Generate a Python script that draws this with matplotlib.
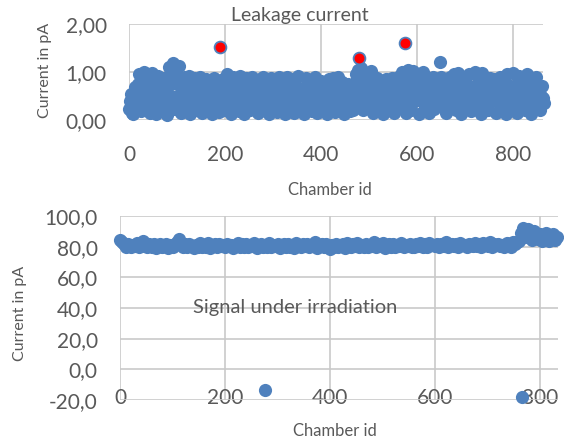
import numpy as np
import matplotlib.pyplot as plt

plt.rcParams['font.family'] = ['Lato', 'DejaVu Sans']

# leakage current per chamber, even ids split into two interleaved lists
leak_ids = np.arange(0, 868, 4)
leak_vals = [
    0.22, 0.55, 0.12, 0.68, 0.35, 0.95, 0.18, 0.62, 1.0, 0.28,
    0.85, 0.15, 0.98, 0.45, 0.12, 0.92, 0.6, 0.2, 0.88, 0.35,
    0.1, 1.1, 0.5, 1.18, 0.22, 0.75, 1.12, 0.15, 0.6, 0.9,
    0.3, 0.92, 0.12, 0.55, 0.88, 0.2, 0.7, 0.9, 0.14, 0.45,
    0.85, 0.25, 0.62, 0.12, 0.88, 0.4, 0.78, 0.16, 0.6, 0.85,
    0.2, 0.95, 0.5, 0.13, 0.9, 0.35, 0.72, 0.18, 0.92, 0.4,
    0.12, 0.88, 0.55, 0.2, 0.9, 0.3, 0.68, 0.14, 0.85, 0.45,
    0.9, 0.2, 0.6, 0.12, 0.88, 0.4, 0.75, 0.16, 0.9, 0.32,
    0.55, 0.12, 0.9, 0.25, 0.7, 0.85, 0.15, 0.5, 0.92, 0.22,
    0.65, 0.12, 0.88, 0.35, 0.8, 0.18, 0.6, 0.9, 0.14, 0.42,
    0.82, 0.2, 0.6, 0.12, 0.85, 0.35, 0.88, 0.16, 0.55, 0.9,
    0.25, 0.8, 0.12, 0.5, 0.75, 0.18, 0.55, 0.3, 0.95, 1.05,
    0.6, 1.08, 0.2, 0.85, 0.4, 0.95, 1.02, 0.15, 0.7, 0.88,
    0.3, 0.82, 0.12, 0.6, 0.85, 0.2, 0.45, 0.88, 0.15, 0.7,
    0.9, 0.25, 1.0, 0.5, 0.15, 1.05, 0.7, 0.2, 1.02, 0.4,
    0.95, 0.12, 0.65, 1.0, 0.3, 0.85, 0.15, 0.55, 0.9, 0.22,
    0.85, 0.5, 1.2, 0.3, 0.7, 0.15, 0.65, 0.9, 0.35, 0.95,
    0.2, 0.98, 0.55, 0.12, 0.9, 0.4, 0.75, 0.95, 0.18, 0.6,
    1.0, 0.3, 0.85, 0.12, 0.98, 0.5, 0.7, 0.2, 0.88, 0.4,
    0.85, 0.15, 0.6, 0.9, 0.3, 0.8, 0.12, 0.95, 0.5, 0.25,
    0.98, 0.6, 0.15, 0.92, 0.35, 0.85, 0.2, 0.95, 0.5, 0.12,
    0.8, 0.3, 0.9, 0.55, 0.2, 0.7, 0.35,
]
leak_ids_b = np.arange(2, 866, 4)
leak_vals_b = [
    0.4, 0.15, 0.35, 0.5, 0.75, 0.45, 0.3, 0.8, 0.55, 0.7,
    0.5, 0.7, 0.3, 0.65, 0.8, 0.4, 0.25, 0.7, 0.5, 0.6,
    0.7, 0.45, 0.85, 0.35, 0.95, 0.5, 0.3, 0.8, 0.4, 0.55,
    0.6, 0.4, 0.75, 0.3, 0.5, 0.65, 0.45, 0.25, 0.7, 0.55,
    0.4, 0.6, 0.35, 0.72, 0.5, 0.25, 0.6, 0.45, 0.3, 0.7,
    0.6, 0.45, 0.3, 0.75, 0.55, 0.65, 0.25, 0.5, 0.7, 0.6,
    0.45, 0.7, 0.35, 0.6, 0.5, 0.75, 0.3, 0.55, 0.65, 0.25,
    0.55, 0.7, 0.4, 0.3, 0.65, 0.5, 0.35, 0.6, 0.7, 0.45,
    0.3, 0.7, 0.45, 0.55, 0.35, 0.6, 0.75, 0.3, 0.5, 0.65,
    0.45, 0.3, 0.6, 0.7, 0.5, 0.35, 0.65, 0.45, 0.7, 0.25,
    0.6, 0.4, 0.7, 0.3, 0.55, 0.65, 0.45, 0.35, 0.7, 0.5,
    0.55, 0.35, 0.65, 0.3, 0.45, 0.4, 0.2, 0.7, 0.85, 0.6,
    0.85, 0.4, 0.7, 0.55, 0.8, 0.3, 0.6, 0.85, 0.45, 0.55,
    0.6, 0.45, 0.3, 0.7, 0.5, 0.6, 0.35, 0.65, 0.45, 0.3,
    0.6, 0.75, 0.4, 0.85, 0.55, 0.8, 0.35, 0.6, 0.75, 0.85,
    0.55, 0.75, 0.4, 0.7, 0.5, 0.6, 0.35, 0.7, 0.45, 0.6,
    0.5, 0.7, 0.9, 0.45, 0.5, 0.35, 0.45, 0.55, 0.7, 0.5,
    0.6, 0.4, 0.75, 0.35, 0.55, 0.7, 0.5, 0.3, 0.65, 0.45,
    0.7, 0.55, 0.35, 0.65, 0.45, 0.75, 0.3, 0.55, 0.6, 0.7,
    0.5, 0.65, 0.35, 0.6, 0.7, 0.45, 0.55, 0.3, 0.7, 0.6,
    0.7, 0.35, 0.55, 0.75, 0.5, 0.6, 0.4, 0.7, 0.3, 0.55,
    0.6, 0.45, 0.65, 0.35, 0.5, 0.45,
]
# flagged chambers (red)
flag_ids = [190, 479, 574]
flag_vals = [1.53, 1.29, 1.60]

# signal under irradiation (every 4th chamber id)
sig_ids = np.arange(0, 836, 4)
sig_vals = [
    84.5, 83.0, 81.5, 80.0, 82.0, 79.5, 81.0, 80.5, 82.5, 79.8,
    81.0, 84.0, 80.2, 79.5, 81.5, 80.0, 82.0, 79.0, 80.8, 81.8,
    79.5, 80.5, 82.0, 79.2, 81.0, 80.0, 81.5, 83.0, 85.0, 82.5,
    80.0, 81.5, 79.5, 82.0, 80.5, 79.0, 81.2, 80.0, 82.2, 79.5,
    81.0, 80.0, 82.5, 79.2, 80.8, 81.5, 79.5, 82.0, 80.2, 81.0,
    79.5, 82.0, 80.5, 81.2, 79.0, 80.8, 82.3, 79.8, 81.5, 80.0,
    82.0, 79.5, 81.0, 80.2, 82.5, 79.2, 80.5, 81.8, 79.8, 81.0,
    80.0, 82.2, 79.5, 81.2, 80.5, 82.0, 79.0, 80.8, 81.5, 79.8,
    82.0, 80.0, 81.0, 79.2, 82.5, 80.5, 79.8, 81.5, 80.2, 82.0,
    79.5, 81.0, 80.5, 82.8, 79.0, 80.2, 81.5, 79.5, 82.0, 80.0,
    78.8, 81.0, 80.0, 82.0, 79.5, 80.8, 81.5, 79.2, 82.2, 80.5,
    79.8, 81.5, 80.2, 82.5, 79.5, 81.0, 80.0, 82.0, 79.8, 81.2,
    80.5, 83.0, 79.5, 81.5, 80.2, 82.2, 79.0, 80.8, 81.5, 80.0,
    82.0, 79.8, 81.2, 80.5, 82.5, 79.5, 81.0, 80.2, 82.0, 80.0,
    79.8, 81.5, 80.5, 82.2, 80.0, 81.8, 79.5, 82.5, 80.8, 81.2,
    80.2, 82.0, 79.8, 81.5, 80.5, 82.8, 80.0, 81.2, 82.0, 80.5,
    81.5, 80.0, 82.5, 80.8, 81.2, 79.8, 82.0, 81.0, 80.2, 82.5,
    80.5, 81.8, 79.8, 82.2, 81.0, 80.2, 83.0, 79.5, 81.5, 80.8,
    82.0, 80.5, 81.2, 79.5, 82.5, 81.0, 80.0, 82.8, 81.5, 83.0,
    84.0, 89.0, 92.5, 86.0, 91.5, 88.0, 84.5, 90.0, 87.5, 85.0,
    88.5, 84.0, 87.0, 89.0, 83.5, 86.5, 88.0, 84.5, 86.0,
]
out_ids = [276, 766]
out_vals = [-13.5, -18.0]

top_yticks = [0, 1, 2]
top_ylabels = ['0,00', '1,00', '2,00']
bot_yticks = [-20, 0, 20, 40, 60, 80, 100]
bot_ylabels = ['-20,0', '0,0', '20,0', '40,0', '60,0', '80,0', '100,0']
xticks = [0, 200, 400, 600, 800]

blue = '#4F81BD'
txt = '#595959'
grid = '#c9c9c9'

fig = plt.figure(figsize=(5.64, 4.43), dpi=100)
W, H = 564, 443

def px_axes(l, r, t, b):
    return fig.add_axes([l / W, 1 - b / H, (r - l) / W, (b - t) / H])

ax1 = px_axes(129, 543, 24, 120)
ax2 = px_axes(120, 558, 216, 400)

for ax in (ax1, ax2):
    for s in ax.spines.values():
        s.set_visible(False)
    ax.grid(True, color=grid, lw=1.2)
    ax.set_axisbelow(True)
    ax.tick_params(length=0, labelsize=15, colors=txt)
    ax.set_xticks(xticks)
    ax.set_xticklabels([str(t) for t in xticks])

# top panel
ax1.scatter(leak_ids, leak_vals, s=90, color=blue, lw=0, clip_on=False, zorder=3)
ax1.scatter(leak_ids_b, leak_vals_b, s=90, color=blue, lw=0, clip_on=False, zorder=3)
ax1.scatter(flag_ids, flag_vals, s=72, color='red', edgecolor=blue, lw=1.3,
            clip_on=False, zorder=4)
ax1.set_xlim(0, 862)
ax1.set_ylim(0, 2)
ax1.set_yticks(top_yticks)
ax1.set_yticklabels(top_ylabels)
ax1.tick_params(axis='x', pad=18)
ax1.tick_params(axis='y', pad=16)
ax1.set_ylabel('Current in pA', fontsize=11.5, color=txt)
ax1.yaxis.set_label_coords(-0.186, 0.52)
ax1.set_xlabel('Chamber id', fontsize=12, color=txt)
ax1.xaxis.set_label_coords(0.486, -0.646)
fig.text(300 / W, 1 - 15 / H, 'Leakage current', fontsize=14, color=txt,
         ha='center', va='center')

# bottom panel
ax2.scatter(sig_ids, sig_vals, s=90, color=blue, lw=0, clip_on=False, zorder=3)
ax2.scatter(out_ids, out_vals, s=90, color=blue, lw=0, clip_on=False, zorder=3)
ax2.set_xlim(0, 834)
ax2.set_ylim(-20, 100)
ax2.set_yticks(bot_yticks)
ax2.set_yticklabels(bot_ylabels)
ax2.tick_params(axis='x', pad=-9)
ax2.tick_params(axis='y', pad=16)
ax2.set_ylabel('Current in pA', fontsize=11.5, color=txt)
ax2.yaxis.set_label_coords(-0.212, 0.473)
ax2.set_xlabel('Chamber id', fontsize=12, color=txt)
ax2.xaxis.set_label_coords(0.491, -0.125)
ax2.text(333, 40, 'Signal under irradiation', fontsize=14.5, color=txt,
         ha='center', va='center')

fig.savefig('out.png', dpi=100)
